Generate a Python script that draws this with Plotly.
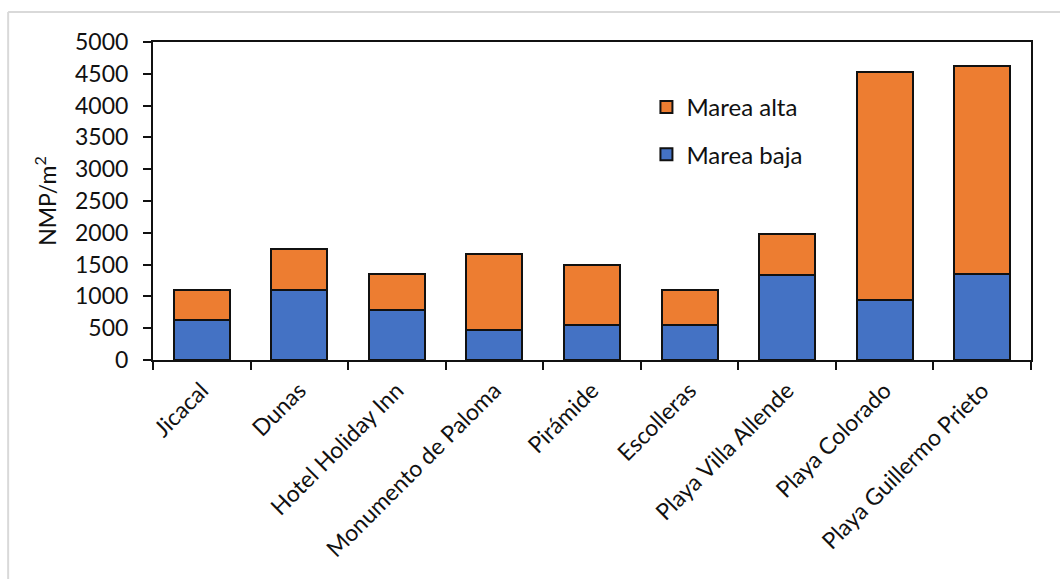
import plotly.graph_objects as go

# Sampling sites along the beach
sites = [
    "Jicacal", "Dunas", "Hotel Holiday Inn", "Monumento de Paloma",
    "Pirámide", "Escolleras", "Playa Villa Allende", "Playa Colorado",
    "Playa Guillermo Prieto",
]

# NMP/m² by tide condition (stacked: low tide at the base, high tide on top)
marea_baja = [630, 1100, 790, 470, 550, 550, 1340, 950, 1350]
marea_alta = [470, 650, 560, 1190, 950, 550, 640, 3580, 3270]

y_ticks = [0, 500, 1000, 1500, 2000, 2500, 3000, 3500, 4000, 4500, 5000]

FONT = "Lato"
INK = "#111111"
BLUE = "#4472C4"
ORANGE = "#ED7D31"

fig = go.Figure()
fig.add_trace(go.Bar(
    x=sites, y=marea_baja, name="Marea baja", legendgroup="baja", legendrank=2,
    marker=dict(color=BLUE, line=dict(color=INK, width=2)),
))
fig.add_trace(go.Bar(
    x=sites, y=marea_alta, name="Marea alta", legendgroup="alta", legendrank=1,
    marker=dict(color=ORANGE, line=dict(color=INK, width=2)),
))

fig.update_layout(
    width=1060, height=579,
    barmode="stack", bargap=0.425,
    plot_bgcolor="white", paper_bgcolor="white",
    margin=dict(l=153, r=29, t=42, b=219),
    font=dict(family=FONT, size=23, color=INK),
    legend=dict(
        x=0.562, y=0.865, xanchor="left", yanchor="top",
        traceorder="grouped", tracegroupgap=13,
        font=dict(family=FONT, size=24, color=INK),
        bgcolor="rgba(0,0,0,0)", itemwidth=30,
    ),
    xaxis=dict(
        tickangle=-45, tickson="boundaries", ticks="outside", ticklen=8,
        tickwidth=2, tickcolor=INK, ticklabelstandoff=6,
        showline=True, linecolor=INK, linewidth=2, mirror=True,
        tickfont=dict(family=FONT, size=23),
    ),
    yaxis=dict(
        range=[0, 5000], tickvals=y_ticks, ticks="outside", ticklen=8,
        tickwidth=2, tickcolor=INK, ticklabelstandoff=10,
        showline=True, linecolor=INK, linewidth=2, mirror=True,
        showgrid=False, zeroline=False,
        tickfont=dict(family=FONT, size=23),
        title=dict(text="NMP/m<sup>2</sup>", standoff=12,
                   font=dict(family=FONT, size=23)),
    ),
    shapes=[
        # light frame around the whole chart
        dict(type="line", xref="paper", yref="paper",
             x0=-0.165, x1=1.2, y0=1.0943, y1=1.0943,
             line=dict(color="#d9d9d9", width=2)),
        dict(type="line", xref="paper", yref="paper",
             x0=-0.165, x1=-0.165, y0=1.0943, y1=-1.0,
             line=dict(color="#d9d9d9", width=2)),
    ],
)

fig.write_html("out.html")
